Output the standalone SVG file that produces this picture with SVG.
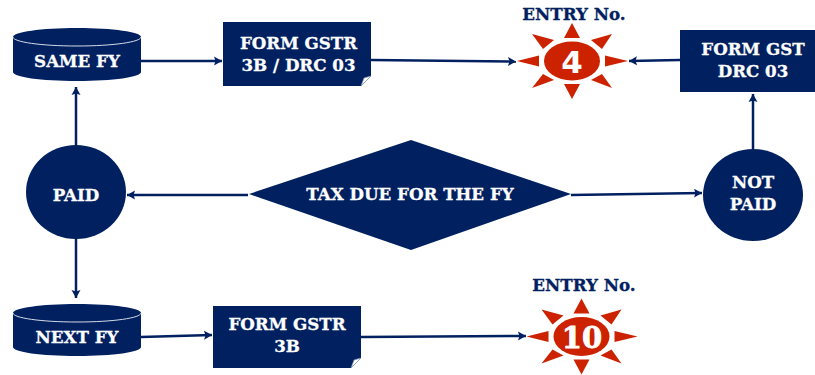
<svg xmlns="http://www.w3.org/2000/svg" xmlns:xlink="http://www.w3.org/1999/xlink" width="815" height="375" viewBox="0 0 815 375">
<style>
.n{fill:#002060}
.t{font-family:"DejaVu Serif","Liberation Serif",serif;font-weight:700;font-size:16.700px;fill:#fff;stroke:#fff;stroke-width:.3;text-anchor:middle}
.e{font-family:"DejaVu Serif","Liberation Serif",serif;font-weight:700;font-size:16.700px;fill:#002060;stroke:#002060;stroke-width:.3;text-anchor:middle}
.c{fill:none;stroke:#002060;stroke-width:2.500;marker-end:url(#a)}
.s{fill:#cc2200}
.rim{fill:none;stroke:#d5dbe8;stroke-width:1}
.fold{fill:#fff;stroke:#8090b0;stroke-width:.7}
.num{font-family:"DejaVu Sans","Liberation Sans",sans-serif;font-weight:700;fill:#fff;text-anchor:middle}
</style>
<defs>
<marker id="a" markerWidth="10" markerHeight="10" refX="8" refY="5" orient="auto" markerUnits="userSpaceOnUse"><path d="M0 .5L8 5L0 9.500L1.500 5Z" fill="#002060"/></marker>
<g id="sun" class="s">
<ellipse cx="0" cy="0" rx="28" ry="19.500"/>
<path d="M0-38L8-23H-8Z"/><path d="M0 38L8 23H-8Z"/>
<path d="M-55 0L-33-5.500V5.500Z"/><path d="M56 0L33-5.500V5.500Z"/>
<path d="M-40-27L-18-21L-29-12Z"/><path d="M40-27L19-21L30-12Z"/>
<path d="M-40 27L-29 13L-18 19Z"/><path d="M40 27L30 13L19 19Z"/>
</g>
</defs>
<g id="connectors">
<path class="c" d="M141 61L222 61"/>
<path class="c" d="M371 60L516 61.500"/>
<path class="c" d="M680 60L629 61"/>
<path class="c" d="M76 145L76 87"/>
<path class="c" d="M753 149L753 94"/>
<path class="c" d="M248 195L127 195"/>
<path class="c" d="M571 195L702 193"/>
<path class="c" d="M76 238L76 298"/>
<path class="c" d="M141 337L212 335"/>
<path class="c" d="M361 337L526 336"/>
</g>
<g id="same-fy">
<path class="n" d="M13 37C13 32 41 28 77 28S141 32 141 37V72C141 77 113 81 77 81S13 77 13 72Z"/>
<path class="rim" d="M13 37C13 42 41 46 77 46S141 42 141 37"/>
<text class="t" x="77" y="67">SAME FY</text>
</g>
<g id="next-fy">
<path class="n" d="M13 313C13 308 41 304 77 304S141 308 141 313V347C141 352 113 356 77 356S13 352 13 347Z"/>
<path class="rim" d="M13 313C13 318 41 322 77 322S141 318 141 313"/>
<text class="t" x="77" y="343">NEXT FY</text>
</g>
<g id="form-gstr-3b-drc">
<path class="n" d="M223 22H371V76L361 86H223Z"/>
<path class="fold" d="M361 86L371 76L364 78Z"/>
<text class="t" x="298.500" y="49">FORM GSTR</text>
<text class="t" x="298.500" y="71">3B / DRC 03</text>
</g>
<g id="form-gstr-3b">
<path class="n" d="M213 306H361V358L351 368H213Z"/>
<path class="fold" d="M351 368L361 358L354 360Z"/>
<text class="t" x="287" y="330">FORM GSTR</text>
<text class="t" x="287" y="352">3B</text>
</g>
<g id="form-gst-drc">
<rect class="n" x="680" y="30" width="135" height="62"/>
<text class="t" x="753" y="55">FORM GST</text>
<text class="t" x="753" y="77">DRC 03</text>
</g>
<g id="paid">
<ellipse class="n" cx="76" cy="192" rx="50" ry="47"/>
<text class="t" x="76" y="201">PAID</text>
</g>
<g id="not-paid">
<ellipse class="n" cx="753" cy="195" rx="50" ry="46"/>
<text class="t" x="753" y="188">NOT</text>
<text class="t" x="753" y="210">PAID</text>
</g>
<g id="tax-due">
<path class="n" d="M249 194L411 140L571 194L411 250Z"/>
<text class="t" x="410" y="200">TAX DUE FOR THE FY</text>
</g>
<g id="entry-4">
<text class="e" x="574" y="20">ENTRY No.</text>
<use xlink:href="#sun" href="#sun" x="572" y="61"/>
<text class="num" x="572" y="73" font-size="31">4</text>
</g>
<g id="entry-10">
<text class="e" x="584" y="291">ENTRY No.</text>
<use xlink:href="#sun" href="#sun" x="581.500" y="336.500"/>
<text class="t" x="582" y="347.500" style="font-size:29px;stroke-width:.8">10</text>
</g>
</svg>
